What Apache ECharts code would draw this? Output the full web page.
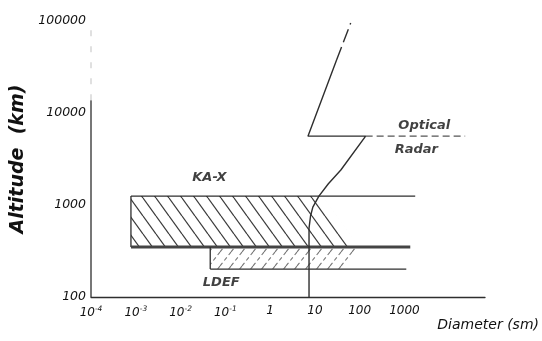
<!DOCTYPE html>
<html><head><meta charset="utf-8">
<script src="https://cdn.jsdelivr.net/npm/echarts@6/dist/echarts.min.js"></script>
<style>html,body{margin:0;padding:0;background:#fff}#c{width:542px;height:341px}</style>
</head><body><div id="c"></div>
<script>
// ---- data ----
const xTickLabels = {'-4':'10{s|-4}','-3':'10{s|-3}','-2':'10{s|-2}','-1':'10{s|-1}','0':'1','1':'10','2':'100','3':'1000'};
const yTickLabels = {'2':'100','3':'1000','4':'10000','5':'100000'};
const kaxHatch = [[7.8e-4,1250],[14.3,1250],[95,350],[7.8e-4,350]];
const ldefHatch = [[0.046,350],[105,350],[44,201],[0.046,201]];
const kaxTop = [[7.8e-4,1250],[1740,1250]];
const kaxLeft = [[7.8e-4,1250],[7.8e-4,350]];
const kaxBottom = [[7.8e-4,350],[1350,350]];
const ldefLeft = [[0.046,350],[0.046,201]];
const ldefBottom = [[0.046,201],[1100,201]];
const limitCurve = [[7.4,100],[7.4,560],[8.0,760],[9.0,950],[12.3,1250],[20,1700],[38,2400],[136,5600],[7.0,5600],[30.5,37700]];
const limitCurveUpper = [[30.5,37700],[63,95000]];
const opticalRadar = [[136,5600],[22700,5600]];
const yAxisSolid = [[1e-4,100],[1e-4,13800]];
const yAxisFaint = [[1e-4,13800],[1e-4,100000]];
const annotations = [
  {name:'KA-X', value:[0.044,1960]},
  {name:'LDEF', value:[0.081,142]},
  {name:'Optical', value:[2780,7230]},
  {name:'Radar', value:[1850,3960]}
];

// ---- hatch patterns ----
function hatch(w, h, dir, color, lw, dash){
  const c = document.createElement('canvas'); c.width = w; c.height = h;
  const g = c.getContext('2d'); g.strokeStyle = color; g.lineWidth = lw;
  if (dash) g.setLineDash(dash);
  for (const off of [-w, 0, w]) {
    g.beginPath();
    if (dir === '\\') { g.moveTo(off, 0); g.lineTo(off + w, h); }
    else { g.moveTo(off, h); g.lineTo(off + w, 0); }
    g.stroke();
  }
  return c;
}
const kaxPat = {image: hatch(13, 18, '\\', '#3a3a3a', 1.2), repeat: 'repeat'};
const ldefPat = {image: hatch(11, 14, '/', '#777', 1.1, [4,3]), repeat: 'repeat'};

const ink = '#2e2e2e';
const font = 'DejaVu Sans';
function seg(data, opt){
  return Object.assign({type:'line', data, symbol:'none', silent:true, clip:false,
    lineStyle:{color:ink, width:1.3}}, opt||{});
}
function poly(data, fill){
  return {type:'custom', silent:true, clip:false, data:[0],
    renderItem(params, api){
      const pts = data.map(p => api.coord(p));
      return {type:'polygon', shape:{points:pts}, style:{fill:fill, stroke:null}};
    }};
}

const chart = echarts.init(document.getElementById('c'));
chart.setOption({
  backgroundColor:'#fff',
  animation:false,
  grid:{left:91, right:55, top:21, bottom:44},
  xAxis:{type:'log', logBase:10, min:1e-4, max:63000, splitNumber:10,
    splitLine:{show:false}, axisTick:{show:false},
    axisLine:{lineStyle:{color:ink, width:1.3}},
    axisLabel:{margin:8, color:'#111', fontFamily:font, fontStyle:'italic', fontSize:12,
      formatter:v => xTickLabels[String(Math.round(Math.log10(v)))] || '',
      rich:{s:{fontSize:7.5, fontFamily:font, fontStyle:'italic', color:'#111', padding:[0,0,7,0]}}},
    name:'Diameter (sm)', nameLocation:'end', nameGap:54,
    nameTextStyle:{align:'right', verticalAlign:'top', padding:[21,0,0,0], color:'#111',
      fontFamily:font, fontStyle:'italic', fontSize:14}
  },
  yAxis:{type:'log', logBase:10, min:100, max:100000, splitNumber:3,
    splitLine:{show:false}, axisTick:{show:false}, axisLine:{show:false},
    axisLabel:{margin:5, color:'#111', fontFamily:font, fontStyle:'italic', fontSize:12.5,
      formatter:v => yTickLabels[String(Math.round(Math.log10(v)))] || ''},
    name:'Altitude  (km)', nameLocation:'middle', nameGap:58,
    nameTextStyle:{color:'#111', fontFamily:font, fontStyle:'italic', fontWeight:'bold', fontSize:19}
  },
  series:[
    poly(kaxHatch, kaxPat),
    poly(ldefHatch, ldefPat),
    seg(yAxisSolid),
    seg(yAxisFaint, {lineStyle:{color:'#ccc', width:1.2, type:[6,10]}}),
    seg(kaxTop),
    seg(kaxLeft),
    seg(kaxBottom, {lineStyle:{color:'#444', width:3}}),
    seg(ldefLeft),
    seg(ldefBottom),
    seg(limitCurve, {lineStyle:{color:ink, width:1.4}}),
    seg(limitCurveUpper, {lineStyle:{color:ink, width:1.4, type:[14,5]}}),
    seg(opticalRadar, {lineStyle:{color:'#555', width:1.3, type:[7,4]}}),
    {type:'scatter', symbolSize:0, silent:true, data:annotations,
      label:{show:true, position:'inside', formatter:p => p.name, color:'#111',
        fontFamily:font, fontStyle:'italic', fontWeight:'bold', fontSize:13}}
  ]
});
</script></body></html>
